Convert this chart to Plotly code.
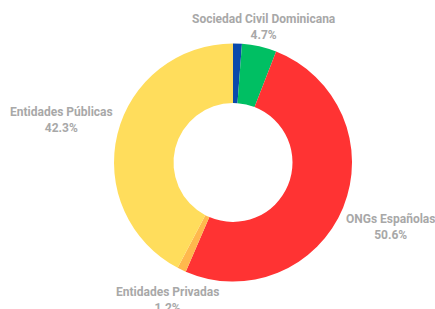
import math
import plotly.graph_objects as go

# ---- data ----
labels = ["Sociedad Civil Española", "Sociedad Civil Dominicana", "ONGs Españolas", "Entidades Privadas", "Entidades Públicas"]
values = [1.2, 4.7, 50.6, 1.2, 42.3]
show_label = [False, True, True, True, True]

# ---- style / layout ----
colors = ["#0B4AAB", "#00BF63", "#FF3333", "#FFB84D", "#FFDD5C"]
W, H = 435, 309
cx, cy, R = 233, 162.5, 119          # pie centre & radius in pixels (from top-left)
label_dist = [0, 139, 170, 152, 177]  # label distance from centre (px)
label_color = "#A8A8A8"

fig = go.Figure(go.Pie(
    labels=labels,
    values=values,
    textinfo="none",
    hole=0.5,
    sort=False,
    direction="clockwise",
    rotation=0,
    marker=dict(colors=colors, line=dict(width=0)),
    domain=dict(x=[(cx - R) / W, (cx + R) / W],
                y=[(H - cy - R) / H, (H - cy + R) / H]),
    hoverinfo="label+percent",
))

total = sum(values)
cum = 0.0
for lab, v, show, d in zip(labels, values, show_label, label_dist):
    mid = (cum + v / 2) / total * 2 * math.pi
    cum += v
    if not show:
        continue
    px = cx + d * math.sin(mid)
    py = cy - d * math.cos(mid)
    fig.add_annotation(
        x=px / W, y=1 - py / H, xref="paper", yref="paper",
        xanchor="center", yanchor="middle", showarrow=False,
        text="<b>%s</b><br><b>%.1f%%</b>" % (lab, v / total * 100),
        font=dict(family="Roboto, sans-serif", size=12, color=label_color),
        align="center",
    )

fig.update_layout(
    width=W, height=H,
    margin=dict(l=0, r=0, t=0, b=0),
    showlegend=False,
    paper_bgcolor="white",
    plot_bgcolor="white",
)
fig.write_html("out.html",
               config={"displayModeBar": False},
               post_script="document.body.style.margin='0';document.body.style.overflow='hidden';")
